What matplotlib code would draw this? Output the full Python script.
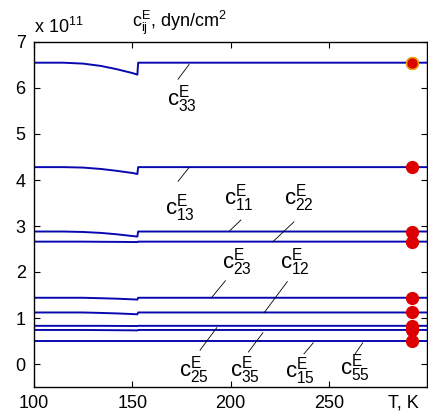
import matplotlib
matplotlib.use('Agg')
from matplotlib import pyplot as plt

plt.rcParams['font.family'] = ['Liberation Sans', 'DejaVu Sans']
plt.rcParams['mathtext.fontset'] = 'custom'
plt.rcParams['mathtext.rm'] = 'Liberation Sans'
plt.rcParams['mathtext.it'] = 'Liberation Sans'
plt.rcParams['mathtext.bf'] = 'Liberation Sans:bold'

# temperature grid, K (jump at the phase transition near 153 K)
T = [100, 115, 125, 134, 142, 150.5, 152.6, 153, 300]

# elastic constants, 1e11 dyn/cm^2
c33 = [6.55, 6.55, 6.53, 6.48, 6.41, 6.32, 6.29, 6.55, 6.55]
c13 = [4.28, 4.28, 4.27, 4.24, 4.20, 4.15, 4.13, 4.28, 4.28]
c11 = [2.88, 2.88, 2.87, 2.85, 2.82, 2.78, 2.77, 2.88, 2.88]
c22 = [2.66, 2.66, 2.66, 2.657, 2.655, 2.652, 2.65, 2.66, 2.66]
c23 = [1.44, 1.44, 1.44, 1.43, 1.42, 1.405, 1.40, 1.44, 1.44]
c12 = [1.12, 1.12, 1.12, 1.11, 1.10, 1.085, 1.08, 1.12, 1.12]
c25 = [0.83, 0.83, 0.83, 0.83, 0.828, 0.826, 0.825, 0.83, 0.83]
c35 = [0.74, 0.74, 0.74, 0.737, 0.735, 0.732, 0.73, 0.74, 0.74]
c55 = [0.50, 0.50, 0.50, 0.50, 0.50, 0.50, 0.50, 0.50, 0.50]
curves = [c33, c13, c11, c22, c23, c12, c25, c35, c55]

# room-temperature measured points
T_exp = 292.5
c_exp = [6.55, 4.28, 2.88, 2.66, 1.44, 1.12, 0.83, 0.74, 0.50]

# labels: name, text centre, leader line (start, end)
labels = [
    ('33', (175.3, 5.77), (173.3, 6.19), (178.9, 6.51)),
    ('13', (174.3, 3.39), (173.3, 3.97), (178.9, 4.27)),
    ('11', (204.3, 3.61), (199.7, 2.90), (205.3, 3.13)),
    ('22', (234.6, 3.61), (221.6, 2.66), (232.3, 3.09)),
    ('23', (203.1, 2.21), (190.3, 1.44), (197.4, 1.81)),
    ('12', (232.8, 2.21), (217.2, 1.12), (228.9, 1.79)),
    ('25', (181.4, -0.13), (184.5, 0.30), (193.0, 0.79)),
    ('35', (207.6, -0.13), (209.1, 0.26), (216.5, 0.68)),
    ('15', (235.6, -0.15), (237.4, 0.22), (242.1, 0.46)),
    ('55', (263.6, -0.09), (263.4, 0.22), (267.3, 0.46)),
]

fig = plt.figure(figsize=(4.28, 4.15), dpi=100)
ax = fig.add_axes([34/428, 28/415, 393/428, 345/415])

for c in curves:
    ax.plot(T, c, color='#0808b0', lw=1.4, zorder=2)

ax.plot([T_exp] * len(c_exp), c_exp, 'o', color='#dd0000', ms=8.5,
        mec='#dd0000', zorder=3, clip_on=False)
ax.plot([T_exp], [c_exp[0]], 'o', color='#dd0000', ms=8.5, mec='#e8b000',
        mew=1.0, zorder=4)

for name, (tx, ty), (x0, y0), (x1, y1) in labels:
    ax.plot([x0, x1], [y0, y1], color='k', lw=0.6, zorder=2)
    ax.text(tx, ty, r'$\mathrm{c}_{%s}^{E}$' % name, fontsize=16,
            ha='center', va='center')

ax.set_xlim(100, 300)
ax.set_ylim(-0.5, 7)
ax.set_xticks([100, 150, 200, 250])
ax.set_yticks(range(8))
ax.tick_params(direction='in', top=True, right=True, labelsize=13, length=4,
               pad=6)
for s in ax.spines.values():
    s.set_linewidth(1.0)

# multiplier and quantity above the frame, axis name at lower right
ax.text(0.0, 1.026, r'x 10$^{11}$', transform=ax.transAxes, fontsize=13,
        ha='left', va='baseline')
ax.text(0.249, 1.0435, r'$\mathrm{c}_{ij}^{E}$, dyn/cm$^2$', transform=ax.transAxes,
        fontsize=13, ha='left', va='baseline')
ax.text(0.94, -0.047, 'T, K', transform=ax.transAxes, fontsize=13,
        ha='center', va='center')

fig.savefig('out.png', dpi=100)
